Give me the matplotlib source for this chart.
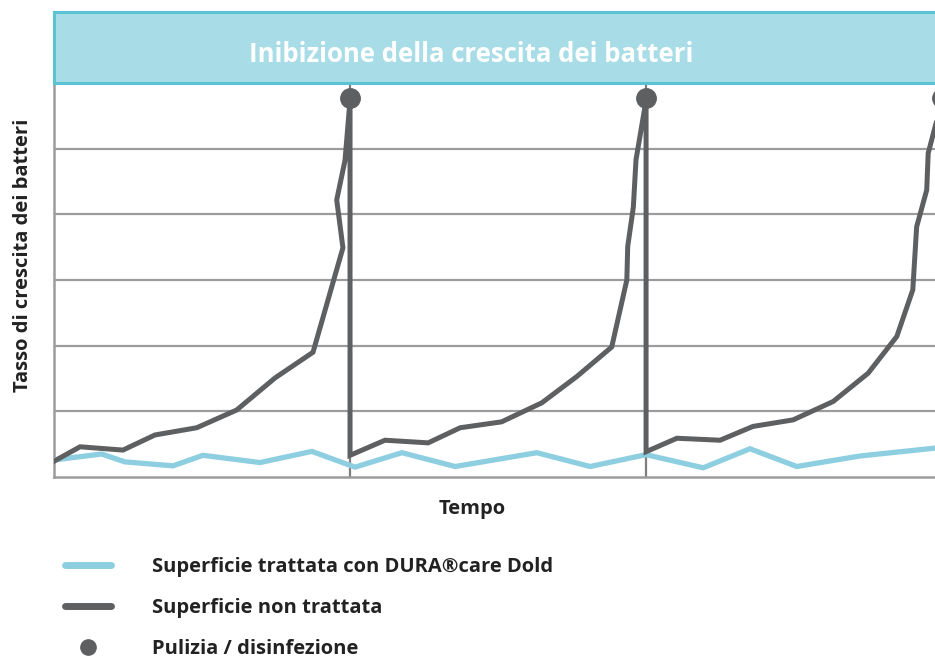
import matplotlib
matplotlib.use("Agg")
import matplotlib.pyplot as plt
from matplotlib.lines import Line2D

plt.rcParams['font.family'] = ['Open Sans', 'DejaVu Sans']

# x in cleaning cycles, y in grid units (0..6)
treated_x = [0.0, 0.161, 0.24, 0.402, 0.503, 0.696, 0.871, 1.017, 1.175, 1.355,
             1.631, 1.811, 2.0, 2.193, 2.351, 2.509, 2.723, 2.976]
treated_y = [0.26, 0.35, 0.23, 0.17, 0.33, 0.22, 0.39, 0.15, 0.37, 0.16,
             0.37, 0.16, 0.34, 0.14, 0.43, 0.16, 0.32, 0.44]

untreated_x = [0.0, 0.088, 0.233, 0.341, 0.482, 0.617, 0.747, 0.875, 0.976, 0.955, 0.983, 1.0,
               1.0, 1.118, 1.264, 1.372, 1.512, 1.648, 1.766, 1.884, 1.935, 1.938, 1.957, 1.966, 2.0,
               2.0, 2.104, 2.25, 2.361, 2.497, 2.632, 2.75, 2.847, 2.901, 2.914, 2.948, 2.953, 3.0]
untreated_y = [0.24, 0.46, 0.41, 0.64, 0.75, 1.02, 1.51, 1.90, 3.49, 4.22, 4.82, 5.74,
               0.33, 0.56, 0.52, 0.75, 0.84, 1.13, 1.53, 1.98, 3.00, 3.51, 4.11, 4.83, 5.74,
               0.385, 0.59, 0.56, 0.77, 0.87, 1.15, 1.58, 2.14, 2.85, 3.81, 4.37, 4.93, 5.74]

cleaning_x = [1, 2, 3]
cleaning_y = [5.77, 5.77, 5.77]

title = "Inibizione della crescita dei batteri"
ylabel = "Tasso di crescita dei batteri"
xlabel = "Tempo"
labels = ["Superficie trattata con DURA®care Dold", "Superficie non trattata",
          "Pulizia / disinfezione"]

blue = "#8dcfe0"
gray = "#5e5f61"
grid = "#9c9c9c"
text_col = "#222222"

W, H = 935, 658
fig = plt.figure(figsize=(W / 100, H / 100), dpi=100)

ax = fig.add_axes([54 / W, 1 - 477 / H, 1 - 54 / W, (477 - 83) / H])
ax.set_xlim(0, 2.976)
ax.set_ylim(0, 6)
for y in range(1, 6):
    ax.axhline(y, color=grid, lw=1.6, zorder=1)
for x in [1, 2]:
    ax.axvline(x, color="#7d7d7d", lw=1.6, zorder=1)
for s in ["top", "right"]:
    ax.spines[s].set_visible(False)
for s in ["left", "bottom"]:
    ax.spines[s].set_color(grid)
    ax.spines[s].set_linewidth(1.8)
ax.set_xticks([])
ax.set_yticks([])

ax.plot(treated_x, treated_y, color=blue, lw=3.8, solid_joinstyle="miter", zorder=3)
ax.plot(untreated_x, untreated_y, color=gray, lw=3.6, solid_joinstyle="miter", zorder=4)
ax.plot(cleaning_x, cleaning_y, "o", color=gray, ms=14, zorder=5, clip_on=False)

fig.text(23 / W, 1 - 255 / H, ylabel, rotation=90, ha="center", va="center",
         fontsize=14.5, fontweight="bold", color=text_col)
fig.text(472 / W, 1 - 509 / H, xlabel, ha="center", va="center",
         fontsize=14.5, fontweight="bold", color=text_col)

# title band
band = fig.add_axes([54 / W, 1 - 83 / H, 1 - 54 / W, (83 - 12) / H])
band.set_facecolor("#a8dde7")
band.set_xticks([])
band.set_yticks([])
for s in band.spines.values():
    s.set_color("#5cc3d4")
    s.set_linewidth(2.2)
band.spines["right"].set_visible(False)
fig.text(471 / W, 1 - 54 / H, title, ha="center", va="center",
         fontsize=18.5, fontweight="bold", color="white")

handles = [Line2D([], [], color=blue, lw=5, solid_capstyle="round"),
           Line2D([], [], color=gray, lw=5, solid_capstyle="round"),
           Line2D([], [], color=gray, lw=0, marker="o", ms=11)]
fig.legend(handles, labels, loc="upper left", bbox_to_anchor=(47 / W, 1 - 539 / H),
           frameon=False, handlelength=2.3, handletextpad=2.0, labelspacing=1.03,
           prop={"size": 14.5, "weight": "bold"}, labelcolor=text_col)

fig.savefig("out.png", dpi=100)
